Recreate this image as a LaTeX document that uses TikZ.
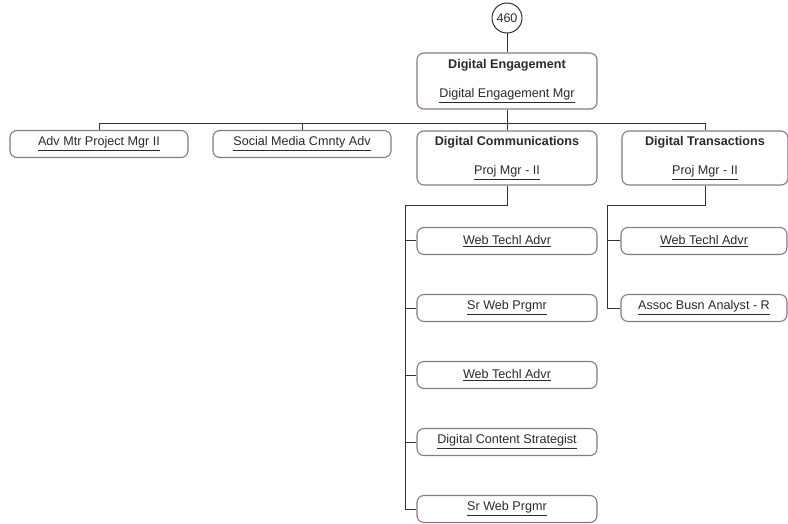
\documentclass[tikz,border=0pt]{standalone}
\usepackage{fontspec}
\setmainfont{Liberation Sans}
\usetikzlibrary{calc,positioning}
\definecolor{boxline}{HTML}{8A7788}
\definecolor{linkline}{HTML}{333333}
\definecolor{inktext}{HTML}{2A2A2A}
\newcommand{\post}[1]{\leavevmode\vtop{\hbox{#1}\kern1.6pt\hrule height 1.1pt}}

\begin{document}
\begin{tikzpicture}[x=1pt,y=-1pt,thick,
  unit/.style={draw=boxline,fill=white,rounded corners=7pt,line width=1.1pt,
    minimum width=178pt,minimum height=27pt,inner sep=1pt,
    font=\fontsize{12.6}{15}\selectfont,text=inktext},
  dept/.style={unit,minimum height=54pt,align=center},
  link/.style={draw=linkline,line width=1pt}]
					\useasboundingbox (0,0) rectangle (788,524);
					
					\node[circle,draw=linkline,line width=1pt,minimum size=30pt,inner sep=0pt,
					  font=\fontsize{12.5}{14}\selectfont,text=inktext] (top) at (507,18) {460};
					\node[dept,minimum width=180pt,minimum height=56pt] (eng) at (507,81)
					  {\textbf{Digital Engagement}\\[14pt]\post{Digital Engagement Mgr}};
					
					\node[unit] (adv) at (99,144) {\post{Adv Mtr Project Mgr II}};
					\node[unit] (soc) at (302,144) {\post{Social Media Cmnty Adv}};
					\node[dept,minimum width=180pt] (com) at (507,158)
					  {\textbf{Digital Communications}\\[14pt]\post{Proj Mgr - II}};
					\node[dept,minimum width=166pt] (tra) at (705,158)
					  {\textbf{Digital Transactions}\\[14pt]\post{Proj Mgr - II}};
					
					\node[unit,minimum width=180pt] (c1) at (507,241) {\post{Web Techl Advr}};
					\node[unit,minimum width=180pt] (c2) at (507,308) {\post{Sr Web Prgmr}};
					\node[unit,minimum width=180pt] (c3) at (507,375) {\post{Web Techl Advr}};
					\node[unit,minimum width=180pt] (c4) at (507,442) {\post{Digital Content Strategist}};
					\node[unit,minimum width=180pt] (c5) at (507,509) {\post{Sr Web Prgmr}};
					
					\node[unit,minimum width=166pt] (t1) at (704,241) {\post{Web Techl Advr}};
					\node[unit,minimum width=166pt] (t2) at (704,308) {\post{Assoc Busn Analyst - R}};
					
					\coordinate (bus) at (507,124);
					\coordinate (comL) at (405,206);
					\coordinate (traL) at (607,206);
					
					% top level
					\draw[link] (top) -- (eng);
					\draw[link] (eng.south) -- (bus);
					\foreach \n in {adv,soc,com,tra}
					  \draw[link] (bus) -| (\n.north);
					
					% communications team
					\draw[link] (com.south) |- (comL) |- (c5.west);
					\foreach \n in {c1,c2,c3,c4}
					  \draw[link] (comL |- \n.west) -- (\n.west);
					
					% transactions team
					\draw[link] (tra.south) |- (traL) |- (t2.west);
					\draw[link] (traL |- t1.west) -- (t1.west);
\end{tikzpicture}
\end{document}
